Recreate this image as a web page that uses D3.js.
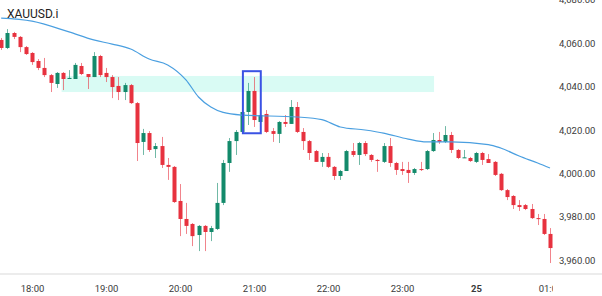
<!DOCTYPE html>
<html>
<head>
<meta charset="utf-8">
<script src="https://cdn.jsdelivr.net/npm/d3@7"></script>
<style>
  body { margin: 0; background: #fff; }
  svg { display: block; font-family: Roboto, "Noto Sans", sans-serif; }
</style>
</head>
<body>
<div id="chart"></div>
<script>
var width = 602, height = 296;

var symbol = "XAUUSD.i";
var barMinutes = 5;
var firstBar = new Date(2025, 9, 24, 17, 35);

// 5 minute bars, 17:35 -> 01:00
var opens = [
  4061.5, 4057.8, 4064.7, 4062.9, 4058.2,
  4055.5, 4051.8, 4048.6, 4045.3, 4041.2, 4046.3, 4043.5, 4043.5, 4049.5, 4045.8,
  4044.4, 4054.1, 4046.3, 4044.4, 4040.3, 4037.5, 4040.7, 4032.4, 4014.5, 4018.6,
  4011.2, 4012.6, 4003.9, 4003.0, 3987.3, 3979.0, 3976.7, 3971.6, 3975.8, 3973.0,
  3974.4, 3986.4, 4004.8, 4014.9, 4019.1, 4028.3, 4038.0, 4023.7, 4027.4, 4019.5,
  4018.2, 4023.7, 4022.8, 4030.6, 4019.1, 4014.9, 4010.3, 4005.3, 4007.6, 4003.0,
  3998.8, 4001.1, 4010.3, 4008.5, 4014.0, 4008.5, 4006.2, 4005.3, 4012.6, 4004.8,
  4002.0, 4001.6, 4000.2, 4002.0, 4002.0, 4010.3, 4015.4, 4014.5, 4017.7, 4010.8,
  4007.1, 4007.1, 4005.3, 4009.4, 4006.6, 4005.3, 3999.8, 3992.3, 3989.6, 3985.4,
  3985.4, 3983.6, 3979.4, 3979.0, 3972.1
];
var highs = [
  4062.4, 4066.5, 4065.2, 4063.3, 4058.7,
  4055.9, 4052.7, 4053.2, 4045.8, 4046.7, 4046.7, 4047.6, 4050.9, 4050.9, 4045.8,
  4055.9, 4054.6, 4048.6, 4045.3, 4044.4, 4041.7, 4041.2, 4032.9, 4020.5, 4019.5,
  4014.0, 4016.8, 4007.1, 4003.4, 3995.1, 3986.4, 3977.1, 3976.2, 3976.2, 3975.8,
  3995.6, 4006.2, 4016.3, 4020.0, 4031.5, 4041.7, 4044.4, 4028.3, 4029.2, 4020.9,
  4024.1, 4026.9, 4033.8, 4032.9, 4020.9, 4015.4, 4010.8, 4009.4, 4009.4, 4003.4,
  4001.6, 4010.8, 4014.0, 4014.5, 4014.9, 4008.9, 4006.6, 4014.0, 4016.3, 4005.3,
  4005.3, 4005.3, 4002.5, 4005.3, 4010.8, 4018.6, 4019.1, 4021.8, 4019.1, 4011.2,
  4010.8, 4007.6, 4009.9, 4009.9, 4008.9, 4005.7, 4000.2, 3992.8, 3990.0, 3987.7,
  3985.9, 3985.9, 3981.3, 3981.3, 3974.8
];
var lows = [
  4056.9, 4057.3, 4061.9, 4055.9, 4054.6,
  4050.0, 4047.6, 4044.4, 4037.5, 4039.4, 4038.4, 4043.5, 4043.5, 4045.3, 4038.9,
  4044.4, 4044.4, 4042.1, 4034.7, 4033.8, 4033.8, 4032.0, 4005.7, 4008.5, 4009.9,
  4007.1, 4002.5, 3997.0, 3986.4, 3971.1, 3972.1, 3966.5, 3964.2, 3964.2, 3968.8,
  3973.9, 3985.4, 4000.7, 4008.5, 4018.2, 4022.3, 4021.4, 4022.3, 4018.6, 4014.5,
  4014.0, 4021.4, 4022.8, 4018.6, 4010.8, 4006.2, 4005.3, 4003.0, 4002.5, 3997.0,
  3997.0, 4001.1, 4007.6, 4003.9, 4008.0, 4005.3, 4000.7, 4004.8, 4003.0, 3999.3,
  3999.3, 3995.6, 3999.3, 4001.1, 4001.6, 4009.9, 4013.6, 4014.0, 4009.4, 4006.6,
  4007.1, 4005.3, 4004.8, 4003.9, 4004.8, 3998.8, 3991.9, 3987.7, 3983.6, 3982.7,
  3983.1, 3979.0, 3976.2, 3971.6, 3958.7
];
var closes = [
  4057.8, 4064.7, 4062.9, 4058.2, 4055.0,
  4051.3, 4048.6, 4045.3, 4041.7, 4046.3, 4043.5, 4044.0, 4050.0, 4045.8, 4044.4,
  4054.1, 4045.3, 4044.4, 4039.8, 4037.5, 4040.7, 4032.4, 4014.0, 4018.6, 4010.8,
  4012.6, 4003.9, 4003.0, 3986.8, 3979.0, 3975.8, 3971.1, 3975.8, 3973.0, 3974.8,
  3986.4, 4004.8, 4014.9, 4019.1, 4028.3, 4038.0, 4024.6, 4026.9, 4019.1, 4018.2,
  4023.7, 4022.8, 4030.6, 4019.1, 4014.9, 4009.4, 4005.3, 4007.6, 4003.0, 3998.8,
  4001.1, 4010.3, 4008.5, 4014.0, 4008.9, 4006.2, 4005.7, 4012.6, 4004.8, 4001.6,
  4001.1, 4000.2, 4002.0, 4001.6, 4010.3, 4015.4, 4014.5, 4017.7, 4010.8, 4007.1,
  4007.4, 4005.7, 4009.4, 4006.2, 4004.8, 3999.3, 3992.3, 3989.1, 3985.4, 3984.5,
  3983.6, 3979.4, 3979.0, 3972.1, 3965.6
];

// moving average at some bars
var maBars = [0, 5, 11, 15, 18, 21, 24, 27, 30, 32, 34, 36, 39, 48, 52, 55, 59, 62, 66, 69, 73, 79, 81, 84, 87, 89];
var maValues = [4071.6, 4070.2, 4065.2, 4061.5, 4059.6, 4057.3, 4052.7, 4050.0, 4043.0, 4035.2, 4030.6, 4028.1, 4026.9,
  4026.0, 4024.8, 4021.4, 4020.0, 4018.6, 4015.8, 4014.5, 4014.5, 4013.3, 4011.7, 4008.0, 4004.8, 4002.5];

var priceTicks = [3960, 3980, 4000, 4020, 4040, 4060, 4080];
var timeTicks = [
  new Date(2025, 9, 24, 18), new Date(2025, 9, 24, 19), new Date(2025, 9, 24, 20), new Date(2025, 9, 24, 21),
  new Date(2025, 9, 24, 22), new Date(2025, 9, 24, 23), new Date(2025, 9, 25, 0), new Date(2025, 9, 25, 1)
];
var timeLabels = ["18:00", "19:00", "20:00", "21:00", "22:00", "23:00", "25", "01:00"];

// supply zone and marked candles
var zoneTimes = [new Date(2025, 9, 24, 18, 24), new Date(2025, 9, 24, 23, 26)];
var zonePrices = [4044.9, 4037.5];
var boxTimes = [new Date(2025, 9, 24, 20, 51), new Date(2025, 9, 24, 21, 5, 30)];
var boxPrices = [4047.1, 4018.5];

var plotRight = 553, axisY = 274;
var upColor = "#138a6b", downColor = "#e7323f";

var svg = d3.select("#chart")
  .append("svg")
  .attr("width", width)
  .attr("height", height);

var x = d3.scaleTime()
  .domain([timeTicks[0], timeTicks[timeTicks.length - 1]])
  .range([32, 550]);

var y = d3.scaleLinear()
  .domain([3960, 4060])
  .range([260.2, 43.2]);

svg.append("clipPath").attr("id", "plot")
  .append("rect").attr("x", 0).attr("y", 0).attr("width", plotRight).attr("height", axisY);

svg.append("clipPath").attr("id", "xlab")
  .append("rect").attr("x", 0).attr("y", axisY).attr("width", plotRight).attr("height", height - axisY);

var plot = svg.append("g").attr("clip-path", "url(#plot)");

// zone band behind candles
plot.append("rect")
  .attr("x", x(zoneTimes[0]))
  .attr("y", y(zonePrices[0]))
  .attr("width", x(zoneTimes[1]) - x(zoneTimes[0]))
  .attr("height", y(zonePrices[1]) - y(zonePrices[0]))
  .attr("fill", "#d9fbf4");

var bars = opens.map(function (o, i) {
  return {
    t: d3.timeMinute.offset(firstBar, i * barMinutes),
    o: o, h: highs[i], l: lows[i], c: closes[i]
  };
});

var candle = plot.selectAll(".candle")
  .data(bars)
  .enter().append("g")
  .attr("class", "candle");

candle.append("line")
  .attr("x1", function (d) { return Math.round(x(d.t)) + 0.5; })
  .attr("x2", function (d) { return Math.round(x(d.t)) + 0.5; })
  .attr("y1", function (d) { return y(d.h); })
  .attr("y2", function (d) { return y(d.l); })
  .attr("stroke", function (d) { return d.c >= d.o ? upColor : downColor; })
  .attr("stroke-opacity", 0.6)
  .attr("stroke-width", 1);

candle.append("rect")
  .attr("x", function (d) { return Math.round(x(d.t)) - 1.5; })
  .attr("width", 4)
  .attr("y", function (d) { return y(Math.max(d.o, d.c)); })
  .attr("height", function (d) { return Math.max(1, Math.abs(y(d.o) - y(d.c))); })
  .attr("fill", function (d) { return d.c >= d.o ? upColor : downColor; });

// moving average
var maLine = d3.line()
  .x(function (d, i) { return x(bars[maBars[i]].t); })
  .y(function (d) { return y(d); })
  .curve(d3.curveMonotoneX);

plot.append("path")
  .datum(maValues)
  .attr("d", maLine)
  .attr("fill", "none")
  .attr("stroke", "#4a9fe0")
  .attr("stroke-width", 1.2);

// marked candles
plot.append("rect")
  .attr("x", x(boxTimes[0]))
  .attr("y", y(boxPrices[0]))
  .attr("width", x(boxTimes[1]) - x(boxTimes[0]))
  .attr("height", y(boxPrices[1]) - y(boxPrices[0]))
  .attr("fill", "none")
  .attr("stroke", "#3a52e4")
  .attr("stroke-width", 2);

// axes
svg.append("line")
  .attr("x1", 0).attr("x2", width)
  .attr("y1", axisY).attr("y2", axisY)
  .attr("stroke", "#e6e6e6")
  .attr("stroke-width", 1.5);

// clip group sits outside the translated axis group
var xAxis = svg.append("g")
  .attr("clip-path", "url(#xlab)")
  .append("g")
  .attr("transform", "translate(0," + axisY + ")")
  .call(d3.axisBottom(x)
    .tickValues(timeTicks)
    .tickSize(0)
    .tickPadding(11)
    .tickFormat(function (d, i) { return timeLabels[i]; }));
xAxis.select(".domain").remove();
xAxis.selectAll("text")
  .attr("font-family", "Roboto, sans-serif")
  .attr("font-size", 9.5)
  .attr("fill", "#3a3a3a")
  .attr("font-weight", function (d) { return d.getHours() === 0 ? "bold" : null; });

var yAxis = svg.append("g")
  .attr("transform", "translate(557,0)")
  .call(d3.axisRight(y)
    .tickValues(priceTicks)
    .tickSize(0)
    .tickPadding(2)
    .tickFormat(d3.format(",.2f")));
yAxis.select(".domain").remove();
yAxis.selectAll("text")
  .attr("font-family", "Roboto, sans-serif")
  .attr("font-size", 9.5)
  .attr("fill", "#3a3a3a");

svg.append("text")
  .attr("x", 7)
  .attr("y", 17.5)
  .attr("font-size", 12)
  .attr("fill", "#222")
  .text(symbol);
</script>
</body>
</html>
